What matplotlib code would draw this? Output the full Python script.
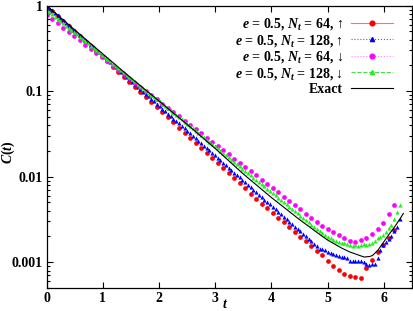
import numpy as np
import matplotlib
matplotlib.use("Agg")
import matplotlib.pyplot as plt
from matplotlib.lines import Line2D

plt.rcParams.update({"font.family": ["Liberation Serif", "DejaVu Serif"], "font.weight": "bold",
                     "font.size": 10, "mathtext.fontset": "custom",
                     "mathtext.rm": "Liberation Serif:bold", "mathtext.it": "Liberation Serif:italic:bold",
                     "mathtext.bf": "Liberation Serif:bold"})

# time step of the two lattices (T = 2*pi)
dt64 = 2*np.pi/64
dt128 = 2*np.pi/128

# log10 C(t), one value per lattice point
log_up64 = [0.000, -0.059, -0.119, -0.178, -0.238, -0.297, -0.356, -0.416, -0.475, -0.535,
            -0.594, -0.653, -0.713, -0.772, -0.832, -0.891, -0.950, -1.010, -1.069, -1.129,
            -1.188, -1.247, -1.307, -1.366, -1.426, -1.485, -1.544, -1.604, -1.663, -1.723,
            -1.782, -1.841, -1.901, -1.960, -2.020, -2.079, -2.138, -2.198, -2.257, -2.317,
            -2.370, -2.425, -2.480, -2.535, -2.590, -2.645, -2.700, -2.755, -2.810, -2.865,
            -2.920, -2.980, -3.040, -3.095, -3.135, -3.160, -3.170, -3.180, -3.070, -2.975,
            -2.880, -2.800, -2.720, -2.625]
log_dn64 = [-0.109, -0.158, -0.208, -0.257, -0.307, -0.356, -0.405, -0.455, -0.504, -0.554,
            -0.603, -0.652, -0.702, -0.751, -0.801, -0.850, -0.899, -0.949, -0.998, -1.048,
            -1.097, -1.146, -1.196, -1.245, -1.295, -1.344, -1.393, -1.443, -1.492, -1.542,
            -1.591, -1.640, -1.690, -1.739, -1.789, -1.838, -1.887, -1.937, -1.986, -2.036,
            -2.085, -2.134, -2.184, -2.233, -2.283, -2.332, -2.381, -2.431, -2.480, -2.530,
            -2.575, -2.615, -2.652, -2.685, -2.720, -2.755, -2.765, -2.745, -2.720, -2.675,
            -2.615, -2.540, -2.440, -2.330]
log_up128 = [0.000, -0.029, -0.057, -0.086, -0.115, -0.144, -0.172, -0.201, -0.230, -0.258,
             -0.287, -0.316, -0.344, -0.373, -0.402, -0.431, -0.459, -0.488, -0.517, -0.545,
             -0.574, -0.603, -0.631, -0.660, -0.689, -0.718, -0.746, -0.775, -0.804, -0.832,
             -0.861, -0.890, -0.918, -0.947, -0.976, -1.005, -1.033, -1.062, -1.091, -1.119,
             -1.148, -1.177, -1.205, -1.234, -1.263, -1.292, -1.320, -1.349, -1.378, -1.406,
             -1.435, -1.464, -1.492, -1.521, -1.550, -1.579, -1.607, -1.636, -1.665, -1.693,
             -1.722, -1.751, -1.779, -1.808, -1.837, -1.866, -1.894, -1.923, -1.952, -1.980,
             -2.009, -2.038, -2.066, -2.095, -2.124, -2.153, -2.181, -2.210, -2.239, -2.267,
             -2.296, -2.325, -2.353, -2.382, -2.411, -2.440, -2.468, -2.497, -2.526, -2.554,
             -2.583, -2.612, -2.640, -2.669, -2.698, -2.727, -2.755, -2.784, -2.813, -2.841,
             -2.850, -2.862, -2.875, -2.890, -2.905, -2.915, -2.925, -2.935, -2.940, -2.945,
             -2.990, -2.990, -2.985, -2.985, -2.990, -3.000, -3.020, -3.030, -3.015, -3.025,
             -2.950, -2.860, -2.800, -2.765, -2.730, -2.690, -2.640, -2.590, -2.500]
log_dn128 = [-0.050, -0.076, -0.102, -0.128, -0.155, -0.181, -0.207, -0.233, -0.259, -0.285,
             -0.311, -0.337, -0.364, -0.390, -0.416, -0.442, -0.468, -0.494, -0.520, -0.546,
             -0.573, -0.599, -0.625, -0.651, -0.677, -0.703, -0.729, -0.756, -0.782, -0.808,
             -0.834, -0.860, -0.886, -0.912, -0.938, -0.965, -0.991, -1.017, -1.043, -1.069,
             -1.095, -1.121, -1.147, -1.174, -1.200, -1.226, -1.252, -1.278, -1.304, -1.330,
             -1.357, -1.383, -1.409, -1.435, -1.461, -1.487, -1.513, -1.539, -1.566, -1.592,
             -1.618, -1.644, -1.670, -1.696, -1.722, -1.748, -1.775, -1.801, -1.827, -1.853,
             -1.879, -1.905, -1.931, -1.957, -1.984, -2.010, -2.036, -2.062, -2.088, -2.114,
             -2.140, -2.167, -2.193, -2.219, -2.245, -2.271, -2.297, -2.323, -2.349, -2.376,
             -2.402, -2.428, -2.454, -2.480, -2.506, -2.532, -2.559, -2.585, -2.611, -2.637,
             -2.655, -2.680, -2.700, -2.715, -2.735, -2.750, -2.765, -2.775, -2.780, -2.785,
             -2.800, -2.815, -2.800, -2.810, -2.800, -2.790, -2.800, -2.790, -2.780, -2.750,
             -2.720, -2.700, -2.685, -2.650, -2.605, -2.560, -2.500, -2.410, -2.330]
# exact curve, read at knots
t_exact = [0.0, 0.5, 1.0, 1.5, 2.0, 2.5, 3.0, 3.5, 4.0, 4.5, 4.9, 5.0, 5.25, 5.4, 5.5,
           5.65, 5.75, 5.8, 5.9, 6.0, 6.1, 6.2, 6.3, 6.35]
log_exact = [0.0, -0.284, -0.565, -0.846, -1.115, -1.389, -1.670, -1.968, -2.243, -2.501,
             -2.694, -2.740, -2.834, -2.881, -2.904, -2.939, -2.933, -2.922, -2.857, -2.764,
             -2.670, -2.582, -2.483, -2.430]

labels = [r"$e$ = 0.5, $N_t$ = 64, ↑", r"$e$ = 0.5, $N_t$ = 128, ↑",
          r"$e$ = 0.5, $N_t$ = 64, ↓", r"$e$ = 0.5, $N_t$ = 128, ↓", "Exact"]

fig = plt.figure(figsize=(4.13, 3.11), dpi=100)
ax = fig.add_axes([0.113, 0.074, 0.884, 0.908])

series = [(log_up64, dt64, "o", "#ff0000", 3.4),
          (log_up128, dt128, "^", "#0000ff", 3.0),
          (log_dn64, dt64, "o", "#ff00ff", 3.4),
          (log_dn128, dt128, "^", "#22ee22", 3.0)]
for vals, dt, m, c, ms in series:
    t = np.arange(len(vals))*dt
    ax.plot(t, 10**np.array(vals), ls="none", marker=m, color=c, ms=ms, mew=0)
ax.plot(t_exact, 10**np.array(log_exact), color="black", lw=0.8)

ax.set_yscale("log")
ax.set_xlim(0, 6.5)
ax.set_ylim(5e-4, 1)
ax.set_xticks(range(7))
ax.set_yticks([1e-3, 1e-2, 1e-1, 1])
ax.set_yticklabels(["0.001", "0.01", "0.1", "1"])
ax.tick_params(which="both", direction="in", top=True, right=True, width=0.8)
ax.tick_params(which="major", length=4.5, pad=3)
ax.tick_params(which="minor", length=2.5)
for s in ax.spines.values():
    s.set_linewidth(0.9)
ax.set_xlabel(r"$t$", va="center")
ax.xaxis.set_label_coords(0.49, -0.058)
ax.set_ylabel(r"$C(t)$", va="center")
ax.yaxis.set_label_coords(-0.106, 0.48)

handles = [Line2D([], [], color="#ff7070", lw=0.8, marker="o", mfc="#ff0000", mec="#ff0000", ms=3.4),
           Line2D([], [], color="#5555ff", lw=0.8, ls=":", marker="^", mfc="#0000ff", mec="#0000ff", ms=3.0),
           Line2D([], [], color="#ff88ff", lw=0.8, ls=":", marker="o", mfc="#ff00ff", mec="#ff00ff", ms=3.4),
           Line2D([], [], color="#44dd44", lw=0.8, ls="--", marker="^", mfc="#22ee22", mec="#22ee22", ms=3.0),
           Line2D([], [], color="black", lw=0.8)]
ax.legend(handles, labels, loc="upper right", bbox_to_anchor=(0.975, 0.998), frameon=False,
          markerfirst=False, handlelength=3.0, handletextpad=0.6, labelspacing=0.05,
          borderpad=0.2, fontsize=10)

fig.savefig("out.png", dpi=100)
